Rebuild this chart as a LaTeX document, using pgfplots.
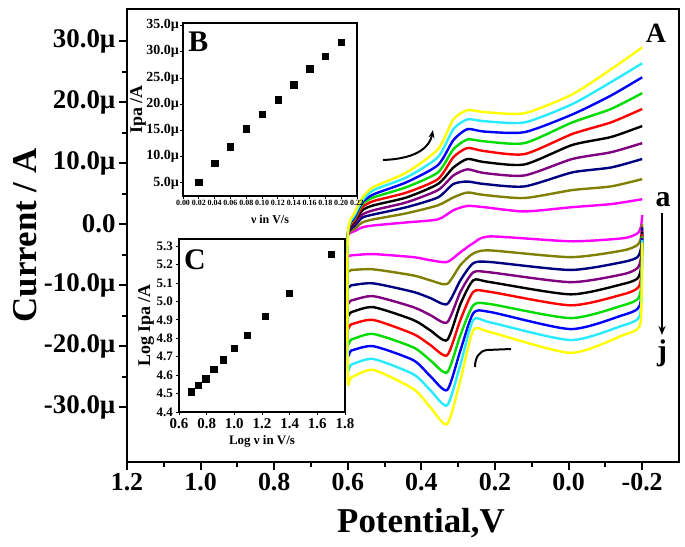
\documentclass[border=0pt]{standalone}
\usepackage{fontspec}
\setmainfont{Liberation Serif}
\usepackage{pgfplots}
\pgfplotsset{compat=1.18}
\usetikzlibrary{arrows.meta}
\definecolor{cmag}{RGB}{255,0,255}
\definecolor{colive}{RGB}{128,128,0}
\definecolor{cnavy}{RGB}{0,0,128}
\definecolor{cpurple}{RGB}{128,0,128}
\definecolor{cred}{RGB}{255,0,0}
\definecolor{cgreen}{RGB}{0,220,0}
\definecolor{cblue}{RGB}{0,0,255}
\definecolor{ccyan}{RGB}{40,235,255}
\definecolor{cyellow}{RGB}{255,255,0}
\begin{document}
\begin{tikzpicture}
\path[use as bounding box] (-127bp,-85bp) rectangle (558bp,462bp);
\begin{axis}[
  at={(0bp,0bp)}, anchor=south west, scale only axis,
  width=552bp, height=453bp,
  xmin=-0.3, xmax=1.2, x dir=reverse, ymin=-39, ymax=35.3,
  axis line style={line width=2pt},
  tick pos=left, tick align=outside,
  major tick length=8bp, minor tick length=5bp,
  every tick/.style={black, line width=2pt},
  xtick={-0.2,0,0.2,0.4,0.6,0.8,1.0,1.2},
  xticklabels={-0.2,0.0,0.2,0.4,0.6,0.8,1.0,1.2},
  minor x tick num=1,
  ytick={-30,-20,-10,0,10,20,30},
  yticklabels={-30.0µ,-20.0µ,-10.0µ,0.0,10.0µ,20.0µ,30.0µ},
  minor y tick num=1,
  xticklabel style={font=\bfseries\fontsize{26}{26}\selectfont},
  yticklabel style={font=\bfseries\fontsize{27}{27}\selectfont},
  xlabel={Potential,V}, ylabel={Current / A},
  label style={font=\bfseries\fontsize{35}{35}\selectfont},
  xlabel style={xshift=18bp, yshift=-10bp},
  every axis plot/.append style={line width=2.4bp, smooth, tension=0.4},
]
\addplot[cmag] coordinates {(-0.2,1.5) (-0.197,-0.3) (-0.187,-1.5) (-0.148,-2.3) (-0.005,-2.8) (0.213,-2.0) (0.259,-3.1) (0.294,-4.6) (0.33,-6.2) (0.376,-5.9) (0.422,-5.4) (0.531,-4.9) (0.59,-5.1) (0.6,-5.1)
 (0.6,-1.8) (0.58,-1.1) (0.56,-0.5) (0.53,-0.2) (0.44,0.3) (0.355,0.8) (0.313,2.3) (0.275,3.0) (0.23,2.8) (0.12,2.1) (-0.01,2.8) (-0.115,3.3) (-0.2,4.1)};
\addplot[colive] coordinates {(-0.2,0) (-0.197,-2.1) (-0.187,-3.4) (-0.148,-4.3) (-0.005,-5.4) (0.213,-4.3) (0.259,-4.8) (0.294,-6.7) (0.33,-9.8) (0.376,-9.2) (0.422,-8.4) (0.531,-7.4) (0.59,-7.5) (0.6,-7.5)
 (0.6,-1.8) (0.58,-0.7) (0.56,0.3) (0.53,0.8) (0.44,1.8) (0.355,3.1) (0.313,4.4) (0.275,5.2) (0.23,4.8) (0.12,4.3) (-0.01,5.6) (-0.115,6.2) (-0.2,7.4)};
\addplot[cnavy] coordinates {(-0.2,-0.5) (-0.197,-3.8) (-0.187,-5.4) (-0.148,-6.2) (-0.005,-7.5) (0.213,-6.2) (0.259,-6.4) (0.294,-9.2) (0.33,-13.1) (0.376,-12.1) (0.422,-11.1) (0.531,-9.7) (0.59,-10.0) (0.6,-10.0)
 (0.6,-1.8) (0.58,-0.2) (0.56,1.1) (0.53,1.6) (0.44,2.8) (0.355,4.4) (0.313,6.6) (0.275,7.0) (0.23,6.6) (0.12,6.2) (-0.01,8.5) (-0.115,9.3) (-0.2,10.7)};
\addplot[cpurple] coordinates {(-0.2,-1.0) (-0.197,-5.4) (-0.187,-7.2) (-0.148,-8.2) (-0.005,-9.5) (0.213,-7.9) (0.259,-7.9) (0.294,-11.1) (0.33,-16.1) (0.376,-14.9) (0.422,-13.6) (0.531,-11.8) (0.59,-12.5) (0.6,-12.5)
 (0.6,-1.8) (0.58,0.2) (0.56,1.6) (0.53,2.3) (0.44,3.6) (0.355,5.6) (0.313,8.0) (0.275,9.0) (0.23,8.4) (0.12,8.0) (-0.01,10.7) (-0.115,11.8) (-0.2,13.3)};
\addplot[black] coordinates {(-0.2,-1.3) (-0.197,-7.0) (-0.187,-8.9) (-0.148,-9.8) (-0.005,-11.5) (0.213,-9.5) (0.259,-9.2) (0.294,-13.1) (0.33,-19.0) (0.376,-17.4) (0.422,-15.7) (0.531,-13.6) (0.59,-14.4) (0.6,-14.4)
 (0.6,-1.8) (0.58,0.5) (0.56,2.3) (0.53,3.1) (0.44,4.4) (0.355,6.6) (0.313,9.3) (0.275,10.7) (0.23,10.2) (0.12,9.8) (-0.01,13.0) (-0.115,14.3) (-0.2,16.1)};
\addplot[cred] coordinates {(-0.2,-1.6) (-0.197,-8.7) (-0.187,-10.5) (-0.148,-11.5) (-0.005,-13.3) (0.213,-11.1) (0.259,-11.1) (0.294,-15.7) (0.33,-21.5) (0.376,-19.8) (0.422,-18.0) (0.531,-15.7) (0.59,-16.4) (0.6,-16.4)
 (0.6,-1.8) (0.58,0.8) (0.56,2.8) (0.53,3.8) (0.44,5.2) (0.355,7.4) (0.313,11.0) (0.275,12.5) (0.23,12.0) (0.12,11.5) (-0.01,14.8) (-0.115,16.7) (-0.2,18.9)};
\addplot[cgreen] coordinates {(-0.2,-2.0) (-0.197,-10.3) (-0.187,-12.3) (-0.148,-13.3) (-0.005,-15.4) (0.213,-13.1) (0.259,-13.3) (0.294,-18.2) (0.33,-24.3) (0.376,-22.3) (0.422,-20.2) (0.531,-18.0) (0.59,-18.9) (0.6,-18.9)
 (0.6,-1.8) (0.58,1.1) (0.56,3.3) (0.53,4.4) (0.44,6.1) (0.355,8.5) (0.313,12.3) (0.275,13.9) (0.23,13.6) (0.12,13.3) (-0.01,16.7) (-0.115,18.9) (-0.2,21.5)};
\addplot[cblue] coordinates {(-0.2,-2.3) (-0.197,-12.0) (-0.187,-13.9) (-0.148,-14.9) (-0.005,-17.2) (0.213,-14.4) (0.259,-14.6) (0.294,-20.7) (0.33,-27.2) (0.376,-24.9) (0.422,-22.3) (0.531,-20.0) (0.59,-20.7) (0.6,-20.7)
 (0.6,-1.8) (0.58,1.3) (0.56,3.6) (0.53,4.9) (0.44,6.9) (0.355,9.7) (0.313,13.8) (0.275,15.6) (0.23,15.2) (0.12,15.1) (-0.01,18.0) (-0.115,21.1) (-0.2,24.1)};
\addplot[ccyan] coordinates {(-0.2,-2.6) (-0.197,-13.6) (-0.187,-15.6) (-0.148,-16.6) (-0.005,-19.0) (0.213,-16.1) (0.259,-15.7) (0.294,-23.0) (0.33,-29.7) (0.376,-27.2) (0.422,-24.6) (0.531,-22.1) (0.59,-23.0) (0.6,-23.0)
 (0.6,-1.8) (0.58,1.6) (0.56,3.9) (0.53,5.6) (0.44,7.7) (0.355,11.0) (0.313,15.6) (0.275,17.2) (0.23,16.9) (0.12,16.7) (-0.01,19.7) (-0.115,23.3) (-0.2,26.4)};
\addplot[cyellow] coordinates {(-0.2,-3.0) (-0.197,-15.2) (-0.187,-17.2) (-0.148,-18.2) (-0.005,-21.1) (0.213,-17.7) (0.259,-17.4) (0.294,-25.6) (0.33,-32.8) (0.376,-30.0) (0.422,-27.0) (0.531,-23.9) (0.59,-25.1) (0.6,-25.1)
 (0.6,-1.8) (0.58,2.0) (0.56,4.4) (0.53,6.1) (0.44,8.5) (0.355,12.3) (0.313,17.2) (0.275,18.7) (0.23,18.4) (0.12,18.2) (-0.01,21.3) (-0.115,25.4) (-0.2,29.0)};
\end{axis}
% annotations
\node[font=\bfseries\fontsize{28}{28}\selectfont] at (529bp,429bp) {A};
\node[font=\bfseries\fontsize{30}{30}\selectfont] at (536bp,262bp) {a};
\node[font=\bfseries\fontsize{30}{30}\selectfont] at (535bp,109bp) {j};
\draw[line width=1.5pt,-{Stealth[length=9bp,width=7bp]}] (535bp,249bp) -- (535bp,127bp);
\draw[line width=2pt,-{Stealth[length=8bp,width=6bp]}] (256bp,302bp) .. controls (285bp,303bp) and (302bp,312bp) .. (306bp,332bp);
\draw[line width=2pt] (384bp,113bp) -- (360bp,112bp) .. controls (352bp,111bp) and (348bp,104bp) .. (348bp,95bp);
% inset B
\begin{axis}[
  at={(56bp,266bp)}, anchor=south west, scale only axis,
  width=174bp, height=173bp,
  axis background/.style={fill=white},
  xmin=0, xmax=0.22, ymin=2.5, ymax=35.5,
  axis line style={line width=1.2pt},
  tick pos=left, tick align=outside,
  major tick length=3bp,
  every tick/.style={black, line width=1pt},
  xtick={0,0.02,0.04,0.06,0.08,0.10,0.12,0.14,0.16,0.18,0.20,0.22},
  xticklabels={0.00,0.02,0.04,0.06,0.08,0.10,0.12,0.14,0.16,0.18,0.20,0.22},
  ytick={5,10,15,20,25,30,35},
  yticklabels={5.0µ,10.0µ,15.0µ,20.0µ,25.0µ,30.0µ,35.0µ},
  xticklabel style={font=\bfseries\fontsize{8}{8}\selectfont, inner sep=1bp},
  yticklabel style={font=\bfseries\fontsize{14}{14}\selectfont, inner sep=1bp},
  xlabel={ν in V/s}, ylabel={Ipa /A},
  xlabel style={font=\bfseries\fontsize{12}{12}\selectfont, yshift=-5bp},
  ylabel style={font=\bfseries\fontsize{18}{18}\selectfont, yshift=-4bp},
]
\addplot[only marks, mark=square*, mark size=3.2bp, black] coordinates {(0.02,5.1) (0.04,8.7) (0.06,11.9) (0.08,15.3) (0.10,18.1) (0.12,20.9) (0.14,23.7) (0.16,26.8) (0.18,29.2) (0.20,31.8)};
\node[anchor=north west, font=\bfseries\fontsize{30}{30}\selectfont, inner sep=0pt] at (rel axis cs:0.03,0.95) {B};
\end{axis}
% inset C
\begin{axis}[
  at={(52bp,50bp)}, anchor=south west, scale only axis,
  width=166bp, height=173bp,
  axis background/.style={fill=white},
  xmin=0.6, xmax=1.8, ymin=4.4, ymax=5.34,
  axis line style={line width=1.2pt},
  tick pos=left, tick align=outside,
  major tick length=3bp,
  every tick/.style={black, line width=1pt},
  xtick={0.6,0.8,1.0,1.2,1.4,1.6,1.8},
  xticklabels={0.6,0.8,1.0,1.2,1.4,1.6,1.8},
  ytick={4.4,4.5,4.6,4.7,4.8,4.9,5.0,5.1,5.2,5.3},
  yticklabels={4.4,4.5,4.6,4.7,4.8,4.9,5.0,5.1,5.2,5.3},
  xticklabel style={font=\bfseries\fontsize{15}{15}\selectfont, inner sep=1bp, yshift=-2bp},
  yticklabel style={font=\bfseries\fontsize{13}{13}\selectfont, inner sep=1bp, xshift=-2bp},
  xlabel={Log ν in V/s}, ylabel={Log Ipa /A},
  xlabel style={font=\bfseries\fontsize{13}{13}\selectfont, yshift=-3bp},
  ylabel style={font=\bfseries\fontsize{18}{18}\selectfont, yshift=-2bp},
]
\addplot[only marks, mark=square*, mark size=3.2bp, black] coordinates {(0.689,4.51) (0.738,4.547) (0.793,4.58) (0.851,4.633) (0.919,4.685) (0.999,4.747) (1.093,4.817) (1.221,4.92) (1.397,5.047) (1.701,5.258)};
\node[anchor=north west, font=\bfseries\fontsize{30}{30}\selectfont, inner sep=0pt] at (rel axis cs:0.03,0.94) {C};
\end{axis}
\end{tikzpicture}
\end{document}
